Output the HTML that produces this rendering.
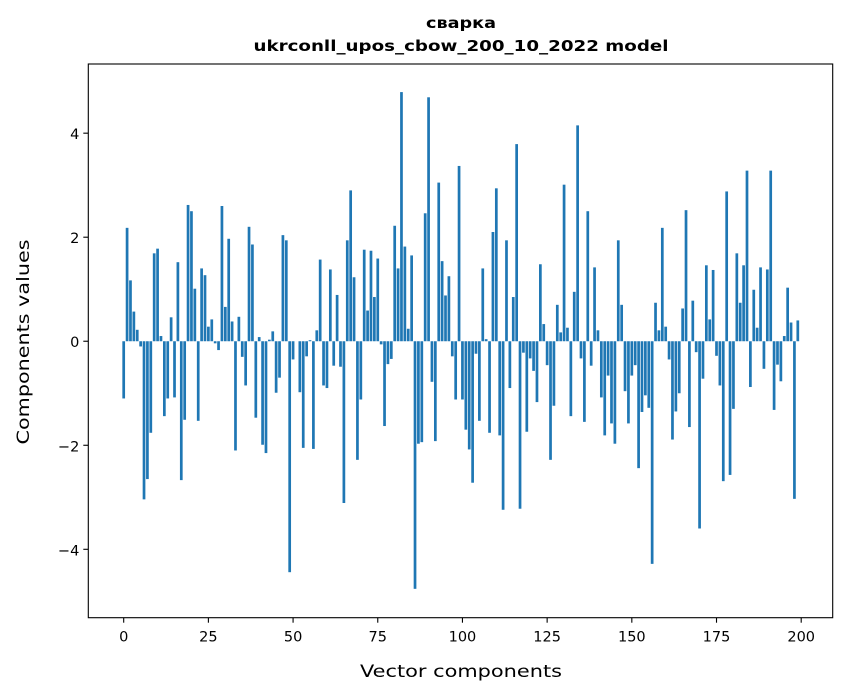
<!DOCTYPE html>
<html><head><meta charset="utf-8"><style>
body{margin:0;background:#fff;}
svg{display:block;font-family:"DejaVu Sans","Liberation Sans",sans-serif;}
</style></head><body>
<svg id="chart" width="847" height="696" viewBox="0 0 847 696" xmlns="http://www.w3.org/2000/svg">
<rect width="847" height="696" fill="#fff"/>
<text x="461" y="28" text-anchor="middle" font-size="15" font-weight="bold" textLength="70" lengthAdjust="spacingAndGlyphs">сварка</text>
<text x="461" y="51" text-anchor="middle" font-size="15" font-weight="bold" textLength="415" lengthAdjust="spacingAndGlyphs">ukrconll_upos_cbow_200_10_2022 model</text>
<g id="bars"></g>
<g id="axes"></g>
<text x="461" y="677" text-anchor="middle" font-size="17" textLength="202" lengthAdjust="spacingAndGlyphs">Vector components</text>
<text transform="translate(29,342) rotate(-90)" text-anchor="middle" font-size="17" textLength="205" lengthAdjust="spacingAndGlyphs">Components values</text>
</svg>
<script>
const values = [
-1.10,2.18,1.17,0.57,0.22,-0.10,-3.04,-2.65,-1.76,1.69,
1.78,0.10,-1.44,-1.10,0.46,-1.08,1.52,-2.67,-1.51,2.62,
2.50,1.01,-1.53,1.40,1.27,0.28,0.42,-0.04,-0.17,2.60,
0.66,1.97,0.38,-2.10,0.47,-0.30,-0.85,2.20,1.86,-1.47,
0.08,-1.99,-2.15,0.03,0.19,-0.99,-0.70,2.04,1.94,-4.44,
-0.35,0.00,-0.98,-2.05,-0.29,0.02,-2.07,0.21,1.57,-0.85,
-0.90,1.38,-0.47,0.89,-0.49,-3.11,1.94,2.90,1.23,-2.28,
-1.12,1.76,0.59,1.74,0.85,1.59,-0.06,-1.63,-0.44,-0.34,
2.22,1.40,4.79,1.82,0.24,1.65,-4.76,-1.97,-1.94,2.46,
4.69,-0.78,-1.92,3.05,1.54,0.88,1.25,-0.29,-1.12,3.37,
-1.12,-1.70,-2.08,-2.72,-0.24,-1.53,1.40,0.04,-1.76,2.10,
2.94,-1.81,-3.24,1.94,-0.90,0.85,3.79,-3.22,-0.22,-1.74,
-0.33,-0.57,-1.17,1.48,0.33,-0.46,-2.28,-1.24,0.70,0.17,
3.01,0.26,-1.44,0.95,4.15,-0.33,-1.55,2.50,-0.47,1.42,
0.21,-1.08,-1.81,-0.66,-1.58,-1.97,1.94,0.70,-0.96,-1.58,
-0.66,-0.46,-2.44,-1.36,-1.04,-1.28,-4.28,0.74,0.21,2.18,
0.28,-0.35,-1.89,-1.35,-1.00,0.63,2.52,-1.65,0.78,-0.21,
-3.60,-0.72,1.46,0.42,1.37,-0.28,-0.85,-2.69,2.88,-2.57,
-1.30,1.69,0.74,1.46,3.28,-0.88,0.99,0.26,1.42,-0.53,
1.38,3.28,-1.32,-0.45,-0.77,0.10,1.03,0.36,-3.03,0.40
];
const xTicks = [0,25,50,75,100,125,150,175,200];
const yTicks = [-4,-2,0,2,4];
const yTickLabels = ["\u22124","\u22122","0","2","4"];

const NS = "http://www.w3.org/2000/svg";
const plotL = 88.3, plotR = 832.7, plotT = 64, plotB = 617.7;
const xMin = -10.45, xMax = 209.3, yMin = -5.315, yMax = 5.33;
function xs(v){ return plotL + (v - xMin) / (xMax - xMin) * (plotR - plotL); }
function ys(v){ return plotB - (v - yMin) / (yMax - yMin) * (plotB - plotT); }

const bars = document.getElementById('bars');
values.forEach((v, i) => {
  const r = document.createElementNS(NS, 'rect');
  const x0 = xs(i - 0.4), x1 = xs(i + 0.4);
  const y0 = ys(Math.max(v, 0)), y1 = ys(Math.min(v, 0));
  r.setAttribute('x', x0);
  r.setAttribute('y', y0);
  r.setAttribute('width', x1 - x0);
  r.setAttribute('height', Math.max(y1 - y0, 0.01));
  r.setAttribute('fill', '#1f77b4');
  
  
  bars.appendChild(r);
});

const axes = document.getElementById('axes');
const frame = document.createElementNS(NS, 'rect');
frame.setAttribute('x', plotL); frame.setAttribute('y', plotT);
frame.setAttribute('width', plotR - plotL); frame.setAttribute('height', plotB - plotT);
frame.setAttribute('fill', 'none'); frame.setAttribute('stroke', '#000'); frame.setAttribute('stroke-width', '1.1');


axes.appendChild(frame);

xTicks.forEach(t => {
  const x = xs(t);
  const l = document.createElementNS(NS, 'line');
  l.setAttribute('x1', x); l.setAttribute('x2', x);
  l.setAttribute('y1', plotB); l.setAttribute('y2', plotB + 5);
  l.setAttribute('stroke', '#000'); l.setAttribute('stroke-width', '1.1');
  
  
  axes.appendChild(l);
  const tx = document.createElementNS(NS, 'text');
  tx.setAttribute('x', x); tx.setAttribute('y', plotB + 24);
  tx.setAttribute('text-anchor', 'middle'); tx.setAttribute('font-size', '14.5');
  tx.textContent = String(t);
  
  
  axes.appendChild(tx);
});
yTicks.forEach((t, k) => {
  const y = ys(t);
  const l = document.createElementNS(NS, 'line');
  l.setAttribute('x1', plotL - 5); l.setAttribute('x2', plotL);
  l.setAttribute('y1', y); l.setAttribute('y2', y);
  l.setAttribute('stroke', '#000'); l.setAttribute('stroke-width', '1.1');
  
  
  axes.appendChild(l);
  const tx = document.createElementNS(NS, 'text');
  tx.setAttribute('x', plotL - 9); tx.setAttribute('y', y + 6);
  tx.setAttribute('text-anchor', 'end'); tx.setAttribute('font-size', '14.5');
  tx.textContent = yTickLabels[k];
  
  
  axes.appendChild(tx);
});
</script>
</body></html>
